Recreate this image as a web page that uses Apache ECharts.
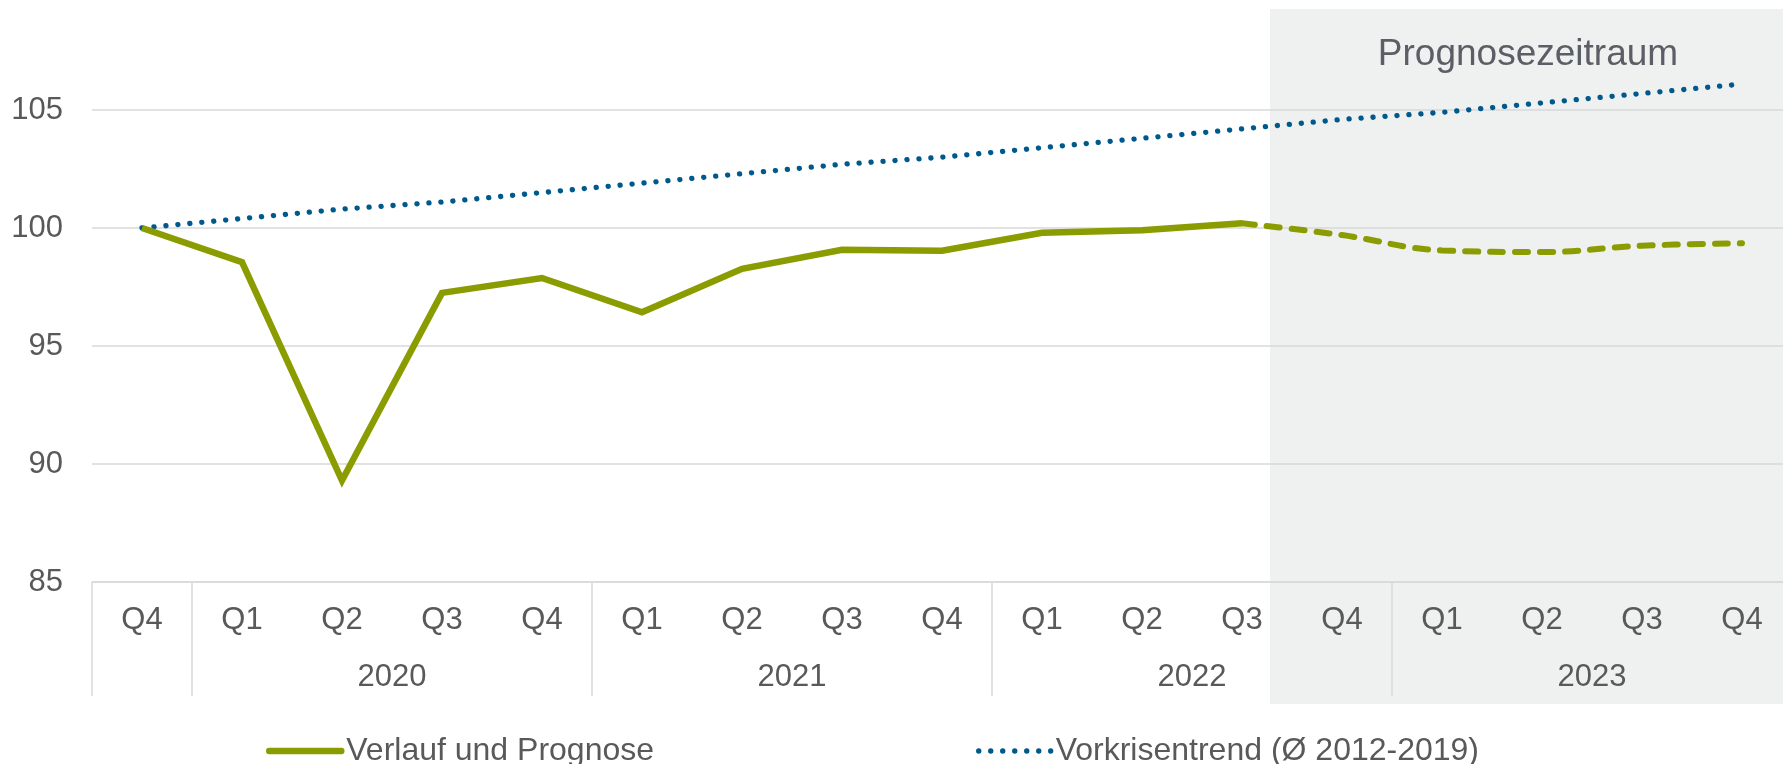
<!DOCTYPE html>
<html>
<head>
<meta charset="utf-8">
<title>Verlauf und Prognose</title>
<script src="https://cdn.jsdelivr.net/npm/echarts@6/dist/echarts.min.js"></script>
<style>
    html, body { margin: 0; padding: 0; background: #fff; }
    #container { width: 1783px; height: 764px; }
</style>
</head>
<body>
<div id="container"></div>
<script>
// quarters Q4 2019 .. Q4 2023
var quarters = ['Q4', 'Q1', 'Q2', 'Q3', 'Q4', 'Q1', 'Q2', 'Q3', 'Q4', 'Q1', 'Q2', 'Q3', 'Q4', 'Q1', 'Q2', 'Q3', 'Q4'];
var years = ['2020', '2021', '2022', '2023'];
var yearCenters = [3, 7, 11, 15];
var yearBounds = [0, 1, 5, 9, 13, 17];

var verlauf = [100, 98.55, 89.3, 97.25, 97.88, 96.43, 98.27, 99.08, 99.04, 99.8, 99.9, 100.2,
    null, null, null, null, null];
var prognose = [null, null, null, null, null, null, null, null, null, null, null, 100.2,
    99.7, 99.05, 98.98, 99.25, 99.35];
var vorkrise = [100.0, 100.4, 100.8, 101.1, 101.5, 101.9, 102.3, 102.7, 103.0, 103.4, 103.8, 104.2,
    104.6, 104.9, 105.3, 105.7, 106.1];

var GREEN = '#8a9c00';
var BLUE = '#00598c';
var TXT = '#595959';
var GRIDC = '#d9d9d9';
var FONT = '"Liberation Sans", Arial, sans-serif';

printChart();

function printChart() {
    var dom = document.getElementById('container');
    var myChart = echarts.init(dom);
    var option = {
        animation: false,
        textStyle: { fontFamily: FONT },
        grid: {
            left: 92,
            width: 1700,
            bottom: 182,
            height: 590,
            containLabel: false,
            outerBoundsMode: 'none'
        },
        graphic: [
            {
                type: 'rect',
                z: -1,
                silent: true,
                shape: { x: 1270, y: 9, width: 520, height: 695 },
                style: { fill: '#eff0f0' }
            },
            {
                type: 'text',
                z: 1,
                silent: true,
                x: 1528,
                y: 55,
                style: {
                    text: 'Prognosezeitraum',
                    fontSize: 37,
                    fontFamily: FONT,
                    fill: '#5a5f66',
                    align: 'center',
                    verticalAlign: 'middle'
                }
            }
        ],
        legend: {
            left: 261,
            top: 730,
            itemWidth: 72,
            itemHeight: 8,
            itemGap: 322,
            data: ['Verlauf und Prognose', 'Vorkrisentrend (Ø 2012-2019)'],
            lineStyle: { width: 'inherit', cap: 'round' },
            itemStyle: { opacity: 0 },
            textStyle: { fontSize: 32, color: TXT, fontFamily: FONT }
        },
        xAxis: [
            {
                type: 'category',
                position: 'bottom',
                boundaryGap: true,
                data: quarters,
                axisLine: { show: true, lineStyle: { color: GRIDC, width: 1.5 } },
                axisTick: { show: false },
                axisLabel: { fontSize: 31, color: TXT, margin: 23, interval: 0, fontFamily: FONT }
            },
            {
                type: 'value',
                position: 'bottom',
                min: 0,
                max: 17,
                axisLine: { show: false },
                splitLine: { show: false },
                axisTick: {
                    show: true,
                    customValues: yearBounds,
                    length: 114,
                    lineStyle: { color: GRIDC, width: 1.5 }
                },
                axisLabel: {
                    show: true,
                    customValues: yearCenters,
                    margin: 80,
                    fontSize: 31,
                    color: TXT,
                    fontFamily: FONT,
                    formatter: function (v) {
                        var i = yearCenters.indexOf(v);
                        return i >= 0 ? years[i] : '';
                    }
                }
            }
        ],
        yAxis: {
            type: 'value',
            min: 85,
            max: 110,
            interval: 5,
            axisLine: { show: false },
            axisTick: { show: false },
            splitLine: { lineStyle: { color: GRIDC, width: 1.5 } },
            axisLabel: { fontSize: 31, color: TXT, margin: 29, showMaxLabel: false, fontFamily: FONT }
        },
        series: [
            {
                name: 'Verlauf und Prognose',
                type: 'line',
                color: GREEN,
                symbol: 'none',
                data: verlauf,
                z: 3,
                lineStyle: { color: GREEN, width: 6.5, join: 'miter' }
            },
            {
                name: 'Prognose',
                type: 'line',
                color: GREEN,
                symbol: 'none',
                smooth: 0.4,
                data: prognose,
                z: 3,
                lineStyle: { color: GREEN, width: 6, type: [13, 12], cap: 'round' }
            },
            {
                name: 'Vorkrisentrend (Ø 2012-2019)',
                type: 'line',
                color: BLUE,
                symbol: 'none',
                data: vorkrise,
                z: 2,
                lineStyle: { color: BLUE, width: 5.3, type: [0.1, 11.9], cap: 'round' }
            }
        ]
    };
    if (option && typeof option === 'object') {
        myChart.setOption(option, true);
    }
}
</script>
</body>
</html>
